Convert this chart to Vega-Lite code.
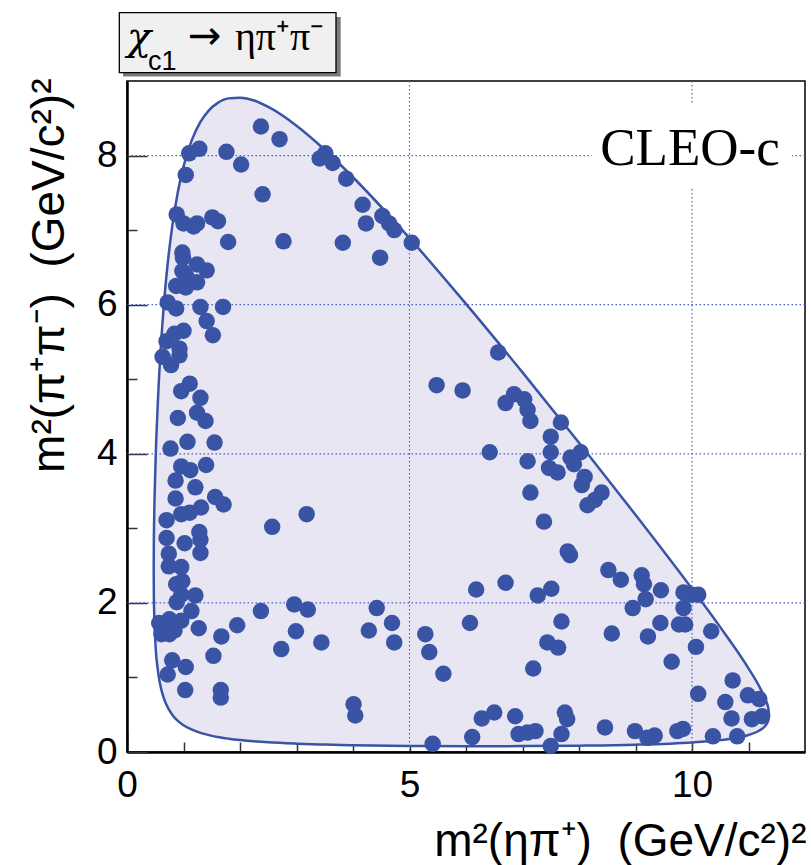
{
  "$schema": "https://vega.github.io/schema/vega-lite/v6.json",
  "width": 678,
  "height": 671,
  "autosize": {"type": "none"},
  "padding": {"left": 127, "top": 81, "right": 6, "bottom": 113},
  "background": "white",
  "datasets": {
    "boundary": [
      {"s": 0.4726, "lo": 2.441, "hi": 2.441},
      {"s": 0.475, "lo": 2.117, "hi": 2.801},
      {"s": 0.48, "lo": 1.9, "hi": 3.089},
      {"s": 0.5, "lo": 1.499, "hi": 3.757},
      {"s": 0.55, "lo": 1.076, "hi": 4.758},
      {"s": 0.6, "lo": 0.862, "hi": 5.446},
      {"s": 0.65, "lo": 0.725, "hi": 5.976},
      {"s": 0.7, "lo": 0.629, "hi": 6.402},
      {"s": 0.8, "lo": 0.5, "hi": 7.047},
      {"s": 0.9, "lo": 0.417, "hi": 7.51},
      {"s": 1.0, "lo": 0.359, "hi": 7.852},
      {"s": 1.15, "lo": 0.299, "hi": 8.213},
      {"s": 1.3, "lo": 0.257, "hi": 8.451},
      {"s": 1.45, "lo": 0.226, "hi": 8.607},
      {"s": 1.6, "lo": 0.202, "hi": 8.703},
      {"s": 1.8, "lo": 0.179, "hi": 8.767},
      {"s": 2.0, "lo": 0.161, "hi": 8.777},
      {"s": 2.5, "lo": 0.13, "hi": 8.652},
      {"s": 3.0, "lo": 0.112, "hi": 8.401},
      {"s": 3.5, "lo": 0.1, "hi": 8.078},
      {"s": 4.0, "lo": 0.091, "hi": 7.709},
      {"s": 5.0, "lo": 0.082, "hi": 6.892},
      {"s": 6.0, "lo": 0.078, "hi": 6.01},
      {"s": 7.0, "lo": 0.079, "hi": 5.092},
      {"s": 8.0, "lo": 0.085, "hi": 4.148},
      {"s": 9.0, "lo": 0.098, "hi": 3.182},
      {"s": 10.0, "lo": 0.129, "hi": 2.19},
      {"s": 10.5, "lo": 0.16, "hi": 1.675},
      {"s": 11.0, "lo": 0.228, "hi": 1.122},
      {"s": 11.2, "lo": 0.291, "hi": 0.865},
      {"s": 11.3, "lo": 0.354, "hi": 0.705},
      {"s": 11.35, "lo": 0.423, "hi": 0.587},
      {"s": 11.3645, "lo": 0.498, "hi": 0.498}
    ],
    "events": [
      {"x": 2.37, "y": 8.39}, {"x": 2.7, "y": 8.22}, {"x": 1.1, "y": 8.03}, {"x": 1.28, "y": 8.09},
      {"x": 1.76, "y": 8.05}, {"x": 2.02, "y": 7.88}, {"x": 1.04, "y": 7.74}, {"x": 2.4, "y": 7.48},
      {"x": 3.41, "y": 7.96}, {"x": 3.51, "y": 8.03}, {"x": 3.64, "y": 7.9}, {"x": 3.88, "y": 7.69},
      {"x": 4.17, "y": 7.34}, {"x": 4.23, "y": 7.09}, {"x": 4.52, "y": 7.19}, {"x": 4.64, "y": 7.09},
      {"x": 4.73, "y": 7.0}, {"x": 5.04, "y": 6.83}, {"x": 3.82, "y": 6.83}, {"x": 4.48, "y": 6.63},
      {"x": 2.77, "y": 6.85}, {"x": 1.79, "y": 6.84}, {"x": 0.88, "y": 7.21}, {"x": 1.0, "y": 7.09},
      {"x": 1.18, "y": 7.05}, {"x": 1.24, "y": 7.09}, {"x": 1.51, "y": 7.17}, {"x": 1.61, "y": 7.12},
      {"x": 0.98, "y": 6.7}, {"x": 0.99, "y": 6.63}, {"x": 1.24, "y": 6.54}, {"x": 1.41, "y": 6.46},
      {"x": 0.98, "y": 6.45}, {"x": 1.05, "y": 6.38}, {"x": 1.24, "y": 6.3}, {"x": 0.87, "y": 6.25},
      {"x": 1.04, "y": 6.23}, {"x": 0.72, "y": 6.03}, {"x": 0.87, "y": 5.95}, {"x": 1.3, "y": 5.97},
      {"x": 1.7, "y": 5.97}, {"x": 1.41, "y": 5.78}, {"x": 1.52, "y": 5.59}, {"x": 0.7, "y": 5.51},
      {"x": 0.84, "y": 5.61}, {"x": 1.0, "y": 5.65}, {"x": 0.63, "y": 5.3}, {"x": 0.78, "y": 5.19},
      {"x": 0.93, "y": 5.41}, {"x": 0.93, "y": 5.32}, {"x": 0.96, "y": 4.84}, {"x": 1.11, "y": 4.94},
      {"x": 1.3, "y": 4.75}, {"x": 1.24, "y": 4.55}, {"x": 0.9, "y": 4.48}, {"x": 1.39, "y": 4.44},
      {"x": 5.48, "y": 4.92}, {"x": 5.94, "y": 4.85},
      {"x": 6.57, "y": 5.36}, {"x": 6.7, "y": 4.68}, {"x": 6.85, "y": 4.8}, {"x": 7.03, "y": 4.73},
      {"x": 7.09, "y": 4.59}, {"x": 7.14, "y": 4.44}, {"x": 7.68, "y": 4.42},
      {"x": 7.5, "y": 4.23}, {"x": 7.5, "y": 4.02}, {"x": 6.42, "y": 4.02}, {"x": 7.09, "y": 3.9},
      {"x": 7.47, "y": 3.81}, {"x": 7.62, "y": 3.75}, {"x": 7.85, "y": 3.95}, {"x": 8.03, "y": 4.02},
      {"x": 7.91, "y": 3.86}, {"x": 8.1, "y": 3.69}, {"x": 8.05, "y": 3.58}, {"x": 8.4, "y": 3.48},
      {"x": 8.28, "y": 3.38}, {"x": 8.15, "y": 3.31}, {"x": 7.14, "y": 3.48}, {"x": 7.38, "y": 3.09},
      {"x": 7.8, "y": 2.69}, {"x": 7.84, "y": 2.64}, {"x": 8.52, "y": 2.44}, {"x": 8.74, "y": 2.31},
      {"x": 9.11, "y": 2.37}, {"x": 9.15, "y": 2.25}, {"x": 9.45, "y": 2.17}, {"x": 9.18, "y": 2.05},
      {"x": 8.95, "y": 1.93}, {"x": 9.85, "y": 2.14}, {"x": 10.0, "y": 2.11}, {"x": 10.11, "y": 2.11},
      {"x": 9.85, "y": 1.93}, {"x": 9.44, "y": 1.73}, {"x": 9.77, "y": 1.71}, {"x": 9.88, "y": 1.71},
      {"x": 9.22, "y": 1.55}, {"x": 10.34, "y": 1.62}, {"x": 10.07, "y": 1.41}, {"x": 9.64, "y": 1.21},
      {"x": 8.58, "y": 1.59}, {"x": 7.69, "y": 1.75}, {"x": 7.44, "y": 1.47}, {"x": 7.63, "y": 1.4},
      {"x": 7.19, "y": 1.12}, {"x": 6.07, "y": 1.73}, {"x": 6.18, "y": 2.18}, {"x": 6.7, "y": 2.27},
      {"x": 7.27, "y": 2.1}, {"x": 7.51, "y": 2.19},
      {"x": 10.72, "y": 0.96}, {"x": 10.99, "y": 0.76}, {"x": 11.19, "y": 0.71}, {"x": 10.59, "y": 0.67},
      {"x": 10.11, "y": 0.78}, {"x": 10.7, "y": 0.45}, {"x": 11.06, "y": 0.44}, {"x": 11.24, "y": 0.48},
      {"x": 10.37, "y": 0.21}, {"x": 10.8, "y": 0.21}, {"x": 9.74, "y": 0.28}, {"x": 9.84, "y": 0.31},
      {"x": 8.99, "y": 0.28}, {"x": 9.21, "y": 0.19}, {"x": 9.34, "y": 0.22}, {"x": 8.46, "y": 0.33},
      {"x": 7.69, "y": 0.24}, {"x": 7.5, "y": 0.08}, {"x": 7.75, "y": 0.53}, {"x": 7.79, "y": 0.44},
      {"x": 7.23, "y": 0.28}, {"x": 7.09, "y": 0.26}, {"x": 6.93, "y": 0.24}, {"x": 6.87, "y": 0.48},
      {"x": 6.5, "y": 0.53}, {"x": 6.28, "y": 0.45}, {"x": 6.11, "y": 0.2},
      {"x": 0.77, "y": 4.07}, {"x": 1.07, "y": 4.16}, {"x": 1.55, "y": 4.15}, {"x": 0.96, "y": 3.83},
      {"x": 1.12, "y": 3.78}, {"x": 1.4, "y": 3.85}, {"x": 0.86, "y": 3.64}, {"x": 1.21, "y": 3.55},
      {"x": 0.86, "y": 3.4}, {"x": 1.56, "y": 3.42}, {"x": 1.71, "y": 3.32}, {"x": 0.96, "y": 3.19},
      {"x": 1.11, "y": 3.21}, {"x": 1.31, "y": 3.28}, {"x": 0.7, "y": 3.11}, {"x": 2.57, "y": 3.02},
      {"x": 3.18, "y": 3.19}, {"x": 0.7, "y": 2.87}, {"x": 1.02, "y": 2.8}, {"x": 1.28, "y": 2.95},
      {"x": 1.3, "y": 2.85}, {"x": 1.3, "y": 2.67}, {"x": 0.74, "y": 2.66}, {"x": 0.74, "y": 2.49},
      {"x": 0.96, "y": 2.48}, {"x": 0.87, "y": 2.25}, {"x": 0.98, "y": 2.29}, {"x": 1.21, "y": 2.1},
      {"x": 0.88, "y": 2.01}, {"x": 0.96, "y": 2.11}, {"x": 1.14, "y": 1.89}, {"x": 0.57, "y": 1.73},
      {"x": 0.75, "y": 1.78}, {"x": 0.96, "y": 1.76}, {"x": 0.61, "y": 1.58}, {"x": 0.75, "y": 1.58},
      {"x": 0.63, "y": 1.64}, {"x": 0.84, "y": 1.63}, {"x": 1.27, "y": 1.66}, {"x": 1.67, "y": 1.55},
      {"x": 1.95, "y": 1.7}, {"x": 2.37, "y": 1.89}, {"x": 2.96, "y": 1.98}, {"x": 3.2, "y": 1.91},
      {"x": 2.99, "y": 1.62}, {"x": 2.73, "y": 1.38}, {"x": 3.44, "y": 1.47}, {"x": 1.53, "y": 1.29},
      {"x": 0.8, "y": 1.23}, {"x": 1.04, "y": 1.14}, {"x": 0.72, "y": 1.04}, {"x": 1.03, "y": 0.83},
      {"x": 1.66, "y": 0.83}, {"x": 1.66, "y": 0.73}, {"x": 4.01, "y": 0.64}, {"x": 4.04, "y": 0.49},
      {"x": 5.41, "y": 0.11}, {"x": 4.42, "y": 1.93}, {"x": 4.69, "y": 1.73}, {"x": 4.28, "y": 1.63},
      {"x": 4.73, "y": 1.47}, {"x": 5.28, "y": 1.58}, {"x": 5.35, "y": 1.34}, {"x": 5.6, "y": 1.05}
    ]
  },
  "layer": [
    {
      "data": {"name": "boundary"},
      "mark": {"type": "area", "fill": "#e8e6f2", "stroke": "#3a54a5", "strokeWidth": 2.5, "interpolate": "monotone", "opacity": 1},
      "encoding": {
        "x": {
          "field": "s", "type": "quantitative",
          "scale": {"domain": [0, 12], "nice": false, "zero": false},
          "axis": {
            "values": [0, 1, 2, 3, 4, 5, 6, 7, 8, 9, 10, 11],
            "format": "d",
            "labelExpr": "datum.value % 5 === 0 ? datum.label : ''",
            "tickSize": {"condition": {"test": "datum.value % 5 === 0", "value": -20}, "value": -10},
            "labelPadding": 35,
            "labelFlush": false,
            "labelOverlap": false,
            "title": "m²(ηπ⁺)\u00a0\u00a0(GeV/c²)²",
            "titleX": 679,
            "titleY": 103,
            "titleAlign": "right",
            "titleBaseline": "alphabetic"
          }
        },
        "y": {
          "field": "hi", "type": "quantitative",
          "scale": {"domain": [0, 9], "nice": false, "zero": false},
          "axis": {
            "values": [0, 0.5, 1, 1.5, 2, 2.5, 3, 3.5, 4, 4.5, 5, 5.5, 6, 6.5, 7, 7.5, 8, 8.5],
            "labelExpr": "datum.value % 2 === 0 ? format(datum.value, 'd') : ''",
            "tickSize": {"condition": {"test": "datum.value % 2 === 0", "value": -20}, "value": -10},
            "labelPadding": 30,
            "labelFlush": false,
            "labelOverlap": false,
            "title": "m²(π⁺π⁻)\u00a0\u00a0(GeV/c²)²",
            "titleAngle": 270,
            "titleX": -64,
            "titleY": -3,
            "titleAlign": "right",
            "titleBaseline": "alphabetic"
          }
        },
        "y2": {"field": "lo"}
      }
    },
    {
      "data": {"values": [{"v": 5}, {"v": 10}]},
      "mark": {"type": "rule", "color": "#4a5cbf", "strokeDash": [1.5, 2.5], "strokeWidth": 1.2},
      "encoding": {
        "x": {"field": "v", "type": "quantitative", "scale": {"domain": [0, 12], "nice": false, "zero": false}}
      }
    },
    {
      "data": {"values": [{"v": 2}, {"v": 4}, {"v": 6}, {"v": 8}]},
      "mark": {"type": "rule", "color": "#4a5cbf", "strokeDash": [1.5, 2.5], "strokeWidth": 1.2},
      "encoding": {
        "y": {"field": "v", "type": "quantitative", "scale": {"domain": [0, 9], "nice": false, "zero": false}}
      }
    },
    {
      "data": {"values": [{"x1": 8.23, "x2": 11.77, "y1": 7.578, "y2": 8.678}]},
      "mark": {"type": "rect", "fill": "white", "opacity": 1},
      "encoding": {
        "x": {"field": "x1", "type": "quantitative", "scale": {"domain": [0, 12], "nice": false, "zero": false}},
        "x2": {"field": "x2"},
        "y": {"field": "y1", "type": "quantitative", "scale": {"domain": [0, 9], "nice": false, "zero": false}},
        "y2": {"field": "y2"}
      }
    },
    {
      "data": {"values": [{"label": "CLEO-c", "x": 9.965, "y": 7.873}]},
      "mark": {"type": "text", "font": "Liberation Serif", "fontSize": 53, "align": "center", "baseline": "alphabetic", "color": "black"},
      "encoding": {
        "x": {"field": "x", "type": "quantitative", "scale": {"domain": [0, 12], "nice": false, "zero": false}},
        "y": {"field": "y", "type": "quantitative", "scale": {"domain": [0, 9], "nice": false, "zero": false}},
        "text": {"field": "label"}
      }
    },
    {
      "data": {"name": "events"},
      "mark": {"type": "circle", "size": 272, "color": "#3a54a5", "opacity": 1},
      "encoding": {
        "x": {"field": "x", "type": "quantitative", "scale": {"domain": [0, 12], "nice": false, "zero": false}},
        "y": {"field": "y", "type": "quantitative", "scale": {"domain": [0, 9], "nice": false, "zero": false}}
      }
    },
    {
      "data": {"values": [{"x1": -0.07, "x2": 3.782, "y1": 9.06, "y2": 9.86}]},
      "mark": {"type": "rect", "fill": "#7a7a7a", "opacity": 1},
      "encoding": {
        "x": {"field": "x1", "type": "quantitative", "scale": {"domain": [0, 12], "nice": false, "zero": false}},
        "x2": {"field": "x2"},
        "y": {"field": "y1", "type": "quantitative", "scale": {"domain": [0, 9], "nice": false, "zero": false}},
        "y2": {"field": "y2"}
      }
    },
    {
      "data": {"values": [{"x1": -0.136, "x2": 3.699, "y1": 9.111, "y2": 9.916}]},
      "mark": {"type": "rect", "fill": "#f0f0f0", "stroke": "black", "strokeWidth": 1.3, "opacity": 1},
      "encoding": {
        "x": {"field": "x1", "type": "quantitative", "scale": {"domain": [0, 12], "nice": false, "zero": false}},
        "x2": {"field": "x2"},
        "y": {"field": "y1", "type": "quantitative", "scale": {"domain": [0, 9], "nice": false, "zero": false}},
        "y2": {"field": "y2"}
      }
    },
    {
      "data": {"values": [{"label": "χ", "x": 0.0, "y": 9.415}]},
      "mark": {"type": "text", "font": "DejaVu Serif", "fontSize": 40, "fontStyle": "italic", "align": "left", "baseline": "alphabetic", "color": "black"},
      "encoding": {
        "x": {"field": "x", "type": "quantitative", "scale": {"domain": [0, 12], "nice": false, "zero": false}},
        "y": {"field": "y", "type": "quantitative", "scale": {"domain": [0, 9], "nice": false, "zero": false}},
        "text": {"field": "label"}
      }
    },
    {
      "data": {"values": [{"label": "c1", "x": 0.372, "y": 9.147}]},
      "mark": {"type": "text", "font": "Liberation Sans", "fontSize": 27, "align": "left", "baseline": "alphabetic", "color": "black"},
      "encoding": {
        "x": {"field": "x", "type": "quantitative", "scale": {"domain": [0, 12], "nice": false, "zero": false}},
        "y": {"field": "y", "type": "quantitative", "scale": {"domain": [0, 9], "nice": false, "zero": false}},
        "text": {"field": "label"}
      }
    },
    {
      "data": {"values": [{"label": "→", "x": 1.08, "y": 9.43}]},
      "mark": {"type": "text", "font": "DejaVu Sans", "fontSize": 40, "align": "left", "baseline": "alphabetic", "color": "black"},
      "encoding": {
        "x": {"field": "x", "type": "quantitative", "scale": {"domain": [0, 12], "nice": false, "zero": false}},
        "y": {"field": "y", "type": "quantitative", "scale": {"domain": [0, 9], "nice": false, "zero": false}},
        "text": {"field": "label"}
      }
    },
    {
      "data": {"values": [{"label": "ηπ⁺π⁻", "x": 1.91, "y": 9.415}]},
      "mark": {"type": "text", "font": "Liberation Serif", "fontSize": 40, "align": "left", "baseline": "alphabetic", "color": "black"},
      "encoding": {
        "x": {"field": "x", "type": "quantitative", "scale": {"domain": [0, 12], "nice": false, "zero": false}},
        "y": {"field": "y", "type": "quantitative", "scale": {"domain": [0, 9], "nice": false, "zero": false}},
        "text": {"field": "label"}
      }
    }
  ],
  "config": {
    "view": {"stroke": "black", "strokeWidth": 1.5},
    "axis": {
      "grid": false,
      "labelFont": "Liberation Sans",
      "labelFontSize": 37,
      "labelColor": "black",
      "titleFont": "Liberation Sans",
      "titleFontSize": 46,
      "titleFontWeight": "normal",
      "titleColor": "black",
      "domainColor": "black",
      "domainWidth": 2.5,
      "tickColor": "#333333",
      "tickWidth": 1.5
    }
  }
}
